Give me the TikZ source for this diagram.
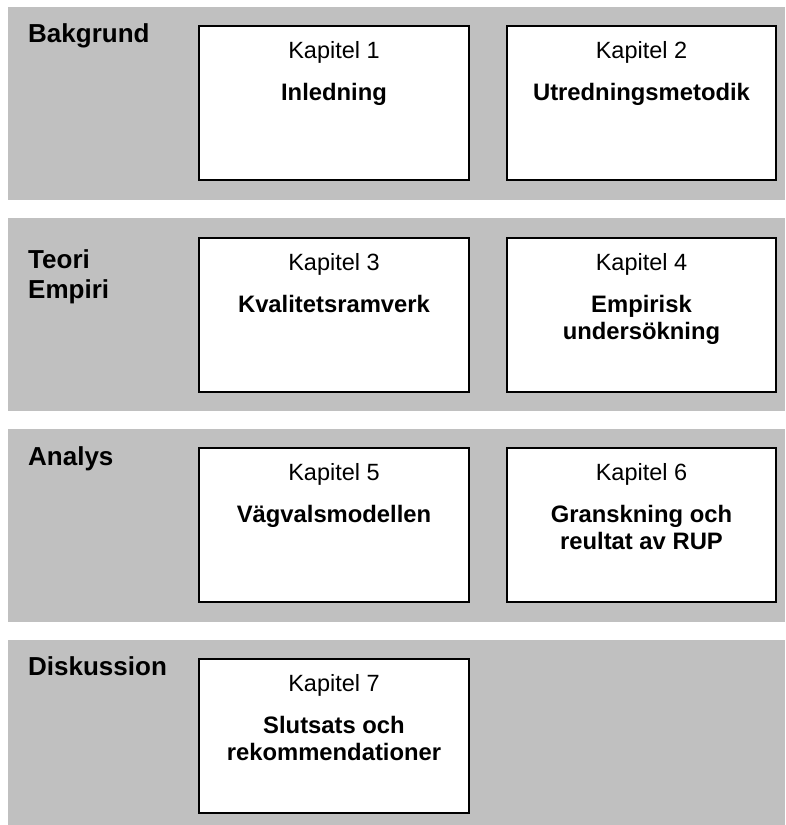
\documentclass[tikz,border=0pt]{standalone}
\usepackage{fontspec}
\setmainfont{Liberation Sans}
\usetikzlibrary{calc}
\definecolor{bandgray}{RGB}{192,192,192}
\tikzset{
  band/.style={fill=bandgray, draw=none, anchor=north west, inner sep=0pt},
  chapbox/.style={draw=black, fill=white, line width=1.6pt, inner sep=0pt,
    minimum height=154pt},
  part/.style={anchor=base west, inner sep=0pt,
    font=\fontsize{26}{30}\selectfont\bfseries},
  kap/.style={anchor=base, inner sep=0pt, font=\fontsize{23.5}{27}\selectfont},
  title/.style={anchor=base, inner sep=0pt,
    font=\fontsize{23.8}{27}\selectfont\bfseries}
}
\begin{document}
\begin{tikzpicture}[x=1pt,y=-1pt]
\useasboundingbox (0,0) rectangle (785,825);

% grey bands, one per part
\node[band, minimum width=777pt, minimum height=193pt] (b1) at (8,7) {};
\node[band, minimum width=777pt, minimum height=193pt] (b2) at (8,218) {};
\node[band, minimum width=777pt, minimum height=193pt] (b3) at (8,429) {};
\node[band, minimum width=777pt, minimum height=185pt] (b4) at (8,640) {};

% part headings
\node[part] (p1) at (28,42) {Bakgrund};
\node[part] (p2a) at (28,268) {Teori};
\node[part] (p2b) at (28,298) {Empiri};
\node[part] (p3) at (28,465) {Analys};
\node[part] (p4) at (28,675) {Diskussion};

% chapter boxes
\node[chapbox, minimum width=270pt] (c1) at (334,103) {};
\node[chapbox, minimum width=269pt] (c2) at (641.5,103) {};
\node[chapbox, minimum width=270pt] (c3) at (334,315) {};
\node[chapbox, minimum width=269pt] (c4) at (641.5,315) {};
\node[chapbox, minimum width=270pt] (c5) at (334,525) {};
\node[chapbox, minimum width=269pt] (c6) at (641.5,525) {};
\node[chapbox, minimum width=270pt] (c7) at (334,736) {};

% chapter numbers
\foreach \c/\n in {c1/1, c2/2, c3/3, c4/4, c5/5, c6/6, c7/7}
  \node[kap] (\c k) at ($(\c.north)+(0,33)$) {Kapitel \n};

% chapter titles, first line
\foreach \c/\t in {c1/Inledning, c2/Utredningsmetodik, c3/Kvalitetsramverk,
    c4/Empirisk, c5/Vägvalsmodellen, c6/Granskning och, c7/Slutsats och}
  \node[title] (\c t) at ($(\c.north)+(0,75)$) {\t};

% chapter titles, second line
\foreach \c/\t in {c4/undersökning, c6/reultat av RUP, c7/rekommendationer}
  \node[title] (\c u) at ($(\c.north)+(0,102)$) {\t};
\end{tikzpicture}
\end{document}
